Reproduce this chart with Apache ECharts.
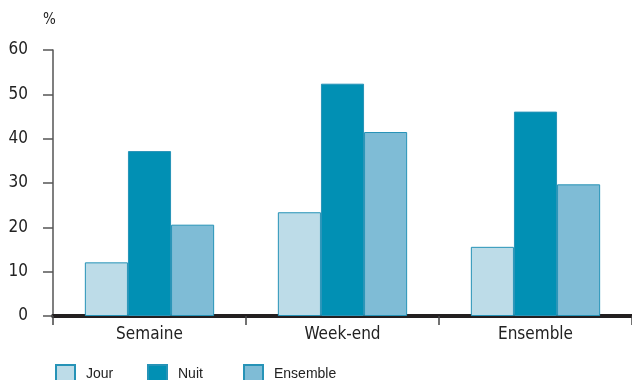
<!DOCTYPE html>
<html>
<head>
<meta charset="utf-8">
<script src="https://cdn.jsdelivr.net/npm/echarts@6/dist/echarts.min.js"></script>
<style>html,body{margin:0;padding:0;background:#fff}#c{width:632px;height:380px}</style>
</head>
<body>
<div id="c"></div>
<script>
var categories = ['Semaine', 'Week-end', 'Ensemble'];
var seriesNames = ['Jour', 'Nuit', 'Ensemble'];
var jour = [12.1, 23.4, 15.6];
var nuit = [37.2, 52.4, 46.1];
var ensemble = [20.6, 41.5, 29.7];
var yTicks = [0, 10, 20, 30, 40, 50, 60];

var colors = ['#BDDCE8', '#0190B4', '#7FBCD6'];
var border = '#2693B7';
var font = 'Liberation Sans, Arial, sans-serif';
var narrow = '"Liberation Sans Narrow", "DejaVu Sans Condensed", sans-serif';

var chart = echarts.init(document.getElementById('c'), null, {renderer: 'canvas'});
function legendAt(i, left) {
  return {
    data: [seriesNames[i]], left: left, top: 364, itemWidth: 19, itemHeight: 19,
    itemGap: 0, icon: 'rect', padding: 0,
    textStyle: {fontFamily: font, fontSize: 14, color: '#222', padding: [0, 0, 0, 6]}
  };
}
var vals = [jour, nuit, ensemble];
chart.setOption({
  animation: false,
  title: {text: '%', left: 43, top: 13, padding: 0, textStyle: {fontFamily: narrow, fontSize: 15, fontWeight: 'normal', color: '#222'}},
  legend: [legendAt(0, 55), legendAt(1, 147), legendAt(2, 243)],
  grid: {left: 53, right: -1, top: 50, bottom: 64},
  xAxis: {
    type: 'category', data: categories,
    axisLine: {lineStyle: {color: '#231f20', width: 4}},
    axisTick: {show: true, length: 9, alignWithLabel: false, lineStyle: {color: '#444', width: 1.5}},
    axisLabel: {margin: 10, fontFamily: narrow, fontSize: 17, color: '#222'}
  },
  yAxis: {
    type: 'value', min: yTicks[0], max: yTicks[yTicks.length - 1], interval: 10,
    axisLine: {show: true, lineStyle: {color: '#555', width: 1.5}},
    axisTick: {show: true, length: 10, lineStyle: {color: '#555', width: 1.5}},
    splitLine: {show: false},
    axisLabel: {margin: 25, fontFamily: narrow, fontSize: 17, color: '#222'}
  },
  series: seriesNames.map(function (n, i) {
    return {
      name: n, type: 'bar', data: vals[i],
      barGap: '0%', barCategoryGap: '33%',
      itemStyle: {color: colors[i], borderColor: border, borderWidth: 1}
    };
  })
});
</script>
</body>
</html>
